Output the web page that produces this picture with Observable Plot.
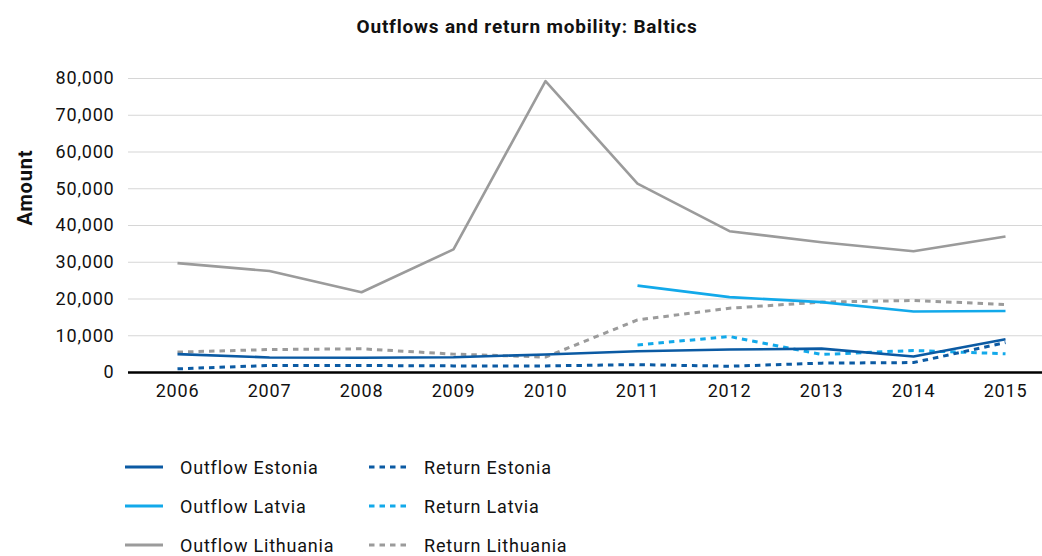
<!DOCTYPE html>
<html>
<head>
<meta charset="utf-8">
<script src="https://cdn.jsdelivr.net/npm/d3@7"></script>
<script src="https://cdn.jsdelivr.net/npm/@observablehq/plot@0.6"></script>
<style>
  html, body { margin: 0; padding: 0; background: #fff; }
  body { width: 1042px; height: 556px; font-family: Roboto, "Liberation Sans", sans-serif; color: #111; position: relative; overflow: hidden; }
  #title { position: absolute; top: 15px; left: 0; width: 1054px; text-align: center; font-weight: bold; font-size: 19px; letter-spacing: 0.8px; }
  #chart { position: absolute; top: 50px; left: 0; }
  #legend { position: absolute; top: 452px; left: 125px; display: grid; grid-template-columns: 244px 300px; row-gap: 9px; font-size: 18px; letter-spacing: 0.8px; }
  .item { display: flex; align-items: center; height: 30px; white-space: nowrap; }
  .item svg { margin-right: 17px; }
</style>
</head>
<body>
<div id="title">Outflows and return mobility: Baltics</div>
<div id="chart"></div>
<div id="legend"></div>
<script>
// Yearly outflows and returns for the three Baltic states
const years = ["2006", "2007", "2008", "2009", "2010", "2011", "2012", "2013", "2014", "2015"];
const outflowEstonia   = [5000, 4100, 4000, 4150, 4900, 5800, 6250, 6500, 4350, 9050];
const returnEstonia    = [1000, 1900, 1900, 1800, 1800, 2150, 1700, 2550, 2700, 8150];
const outflowLatvia    = [null, null, null, null, null, 23650, 20500, 19150, 16600, 16750];
const returnLatvia     = [null, null, null, null, null, 7500, 9800, 4900, 6000, 5100];
const outflowLithuania = [29750, 27600, 21850, 33500, 79300, 51400, 38450, 35450, 33000, 37000];
const returnLithuania  = [5550, 6250, 6450, 5000, 4200, 14300, 17500, 19150, 19600, 18500];
const yTicks = [0, 10000, 20000, 30000, 40000, 50000, 60000, 70000, 80000];

const seriesList = [
  {name: "Outflow Estonia", values: outflowEstonia, color: "#0b5aa3", dashed: false},
  {name: "Outflow Latvia", values: outflowLatvia, color: "#12a9ea", dashed: false},
  {name: "Outflow Lithuania", values: outflowLithuania, color: "#9b9b9b", dashed: false},
  {name: "Return Estonia", values: returnEstonia, color: "#0b5aa3", dashed: true},
  {name: "Return Latvia", values: returnLatvia, color: "#12a9ea", dashed: true},
  {name: "Return Lithuania", values: returnLithuania, color: "#9b9b9b", dashed: true}
];

const rows = s => years.map((year, i) => ({year, value: s.values[i], series: s.name}));

const lineMarks = [
  // draw back-to-front: Lithuania, then Latvia, then Estonia
  ...[2, 5, 1, 4, 0, 3].map(k => {
    const s = seriesList[k];
    return Plot.line(rows(s), {
      x: "year", y: "value",
      stroke: s.color,
      strokeWidth: s.dashed ? 3 : 2.6,
      strokeDasharray: s.dashed ? "5.5,5" : null,
      strokeLinejoin: "round",
      strokeLinecap: "butt"
    });
  })
];

const chart = Plot.plot({
  width: 1042,
  height: 360,
  marginTop: 28,
  marginBottom: 38,
  marginLeft: 128,
  marginRight: 0,
  style: {fontFamily: "Roboto, 'Liberation Sans', sans-serif", fontSize: "18px", letterSpacing: "0.8px", color: "#111", background: "transparent"},
  x: {type: "point", domain: years, range: [174, 1008], padding: 0},
  y: {domain: [0, 80000], ticks: yTicks},
  marks: [
    Plot.ruleY(yTicks.slice(1), {stroke: "#d6d6d6", strokeWidth: 1.2}),
    Plot.axisY({ticks: yTicks, tickSize: 0, tickPadding: 14, tickFormat: d3.format(","), label: null, fontSize: 18}),
    Plot.axisX({tickSize: 0, tickPadding: 12, label: null, fontSize: 18}),
    Plot.text(["Amount"], {frameAnchor: "left", dx: -103, rotate: -90, fontWeight: "bold", fontSize: 20}),
    ...lineMarks,
    Plot.ruleY([0], {stroke: "#000", strokeWidth: 2.5})
  ]
});
document.getElementById("chart").append(chart);

// legend: two columns (outflows, returns), three rows
const legend = document.getElementById("legend");
const order = [0, 3, 1, 4, 2, 5];
for (const k of order) {
  const s = seriesList[k];
  const item = document.createElement("div");
  item.className = "item";
  const sw = d3.create("svg").attr("width", 38).attr("height", 6);
  sw.append("line").attr("x1", 0).attr("x2", 38).attr("y1", 3).attr("y2", 3)
    .attr("stroke", s.color).attr("stroke-width", 3)
    .attr("stroke-dasharray", s.dashed ? "5.5,5" : null);
  item.append(sw.node());
  const label = document.createElement("span");
  label.textContent = s.name;
  item.append(label);
  legend.append(item);
}
</script>
</body>
</html>
